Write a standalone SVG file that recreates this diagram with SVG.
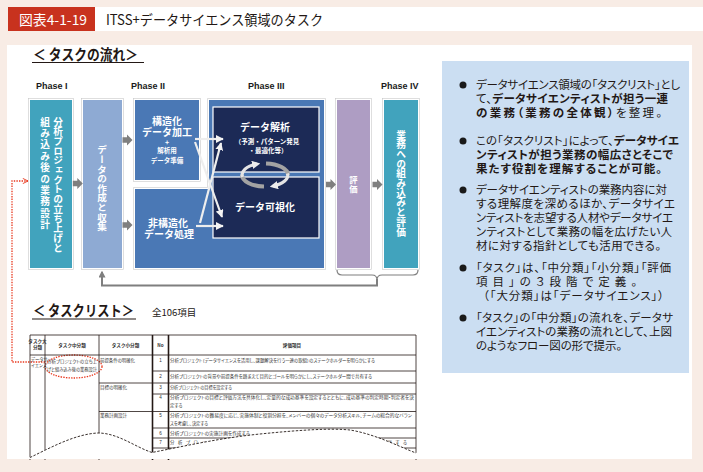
<svg xmlns="http://www.w3.org/2000/svg" width="703" height="472" viewBox="0 0 703 472">
<defs>
<style>
text{font-family:"Noto Sans CJK JP","Noto Sans CJK SC",sans-serif;}
.en{font-family:"Liberation Sans","Noto Sans",sans-serif;font-weight:bold;font-size:9px;fill:#1a1a1a;}
.wt{fill:#fff;font-weight:bold;}
.vt{writing-mode:vertical-rl;}
.pan{font-size:11.5px;fill:#231815;font-feature-settings:"palt";}
.bd{font-weight:bold;}
.frame{fill:#fff;stroke:#c8c8c8;stroke-width:0.6;}
.tl{stroke:#231815;stroke-width:0.8;fill:none;}
.tk{stroke:#231815;stroke-width:1.6;fill:none;}
.tt{font-size:4.4px;fill:#333;font-feature-settings:"palt";}
.th{font-size:4.6px;fill:#333;font-weight:bold;text-anchor:middle;}
.tn{font-size:4.6px;fill:#333;text-anchor:middle;font-family:"Liberation Sans",sans-serif;}
.ga{fill:#7f7f7f;}
.wa{stroke:#eeeeee;stroke-width:2.2;fill:none;marker-end:url(#wh);}
.cw{stroke:#e4e4e4;stroke-width:3.2;fill:none;marker-end:url(#wh2);}
.cg{stroke:#a3a3a3;stroke-width:4;fill:none;}
.red{stroke:#e8381e;stroke-width:1.3;fill:none;stroke-dasharray:1.4 1.2;}
</style>
<path id="ga" d="M0,-2.8 H4.5 V-5.5 L10,0 L4.5,5.5 V2.8 H0 Z"/>
<marker id="wh" viewBox="0 0 10 10" refX="9" refY="5" markerWidth="3.6" markerHeight="3.6" orient="auto"><path d="M0,0 L10,5 L0,10 Z" fill="#f4f4f4"/></marker>
<marker id="wh2" viewBox="0 0 10 10" refX="6" refY="5" markerWidth="2.6" markerHeight="2.6" orient="auto"><path d="M0,0 L10,5 L0,10 Z" fill="#ececec"/></marker>
<marker id="gh" viewBox="0 0 10 10" refX="8" refY="5" markerWidth="3.5" markerHeight="3.5" orient="auto"><path d="M0,0 L10,5 L0,10 Z" fill="#7f7f7f"/></marker>
<marker id="rh" viewBox="0 0 10 10" refX="9" refY="5" markerWidth="5" markerHeight="5" orient="auto"><path d="M1,1 L9,5 L1,9" fill="none" stroke="#e8381e" stroke-width="1.4"/></marker>
</defs>

<!-- background -->
<rect x="0" y="0" width="703" height="472" fill="#f8ece5"/>
<rect x="8" y="7" width="695" height="24" fill="#ffffff"/>
<rect x="8" y="7" width="87" height="24" fill="#c8321e"/>
<text x="19" y="24.5" font-size="13.5" fill="#ffffff" textLength="68" lengthAdjust="spacingAndGlyphs">図表4-1-19</text>
<text x="106" y="24.5" font-size="14" fill="#231815" textLength="217" lengthAdjust="spacingAndGlyphs">ITSS+データサイエンス領域のタスク</text>

<rect x="7" y="45" width="685" height="414" fill="#ffffff"/>

<!-- section title -->
<text x="33" y="59.5" font-size="14.5" font-weight="bold" fill="#231815" textLength="105" lengthAdjust="spacingAndGlyphs">＜ タスクの流れ＞</text>
<line x1="32" y1="62.5" x2="144" y2="62.5" stroke="#231815" stroke-width="1.2"/>

<!-- phase labels -->
<text class="en" x="36" y="89">Phase I</text>
<text class="en" x="131" y="89">Phase II</text>
<text class="en" x="248" y="89">Phase III</text>
<text class="en" x="381" y="89">Phase IV</text>

<!-- nodes -->
<g id="phase1">
<rect class="frame" x="28.5" y="98.5" width="45" height="171"/>
<rect x="30" y="100" width="42" height="168" fill="#41a3bd"/>
<text class="wt vt" x="58" y="117" font-size="9.7">分析プロジェクトの立ち上げと</text>
<text class="wt vt" x="45" y="117" font-size="9.7" letter-spacing="1.7">組み込み後の業務設計</text>
</g>

<g id="data-collect">
<rect class="frame" x="81.5" y="98.5" width="42" height="171"/>
<rect x="83" y="100" width="39" height="168" fill="#8eaad3"/>
<text class="wt vt" x="102" y="145" font-size="9.6" font-weight="normal">データの作成と収集</text>
</g>

<g id="phase23-frame">
<path d="M207.5,98.5 H325.5 V269.5 H133.5 V187.5 H207.5 Z" fill="#fff" stroke="#c8c8c8" stroke-width="0.6"/>
<path d="M209,100 H324 V268 H135 V189 H209 Z" fill="#4a78b5"/>
</g>

<g id="structured">
<rect class="frame" x="133.5" y="98.5" width="67" height="83"/>
<rect x="135" y="100" width="64" height="80" fill="#4a78b5"/>
<text class="wt" text-anchor="middle"><tspan x="167" y="124.5" font-size="10">構造化</tspan><tspan x="167" y="136" font-size="10">データ加工</tspan><tspan x="167" y="144.5" font-size="7">+</tspan><tspan x="167" y="152.5" font-size="6.5">解析用</tspan><tspan x="167" y="162.5" font-size="6.5">データ準備</tspan></text>
</g>

<g id="unstructured">
<text class="wt" text-anchor="middle" font-size="10"><tspan x="168" y="226.5">非構造化</tspan><tspan x="169" y="238">データ処理</tspan></text>
</g>

<g id="analysis">
<rect x="213" y="107" width="106" height="65" fill="#1c2a56" stroke="#ffffff" stroke-width="1.2"/>
<text class="wt" text-anchor="middle"><tspan x="265" y="130.5" font-size="10">データ解析</tspan><tspan x="267" y="144.2" font-size="6.5">（予測・パターン発見</tspan><tspan x="268" y="152.5" font-size="6.5">・最適化等）</tspan></text>
</g>

<g id="visualize">
<rect x="213" y="177" width="106" height="61" fill="#1c2a56" stroke="#ffffff" stroke-width="1.2"/>
<text class="wt" x="265" y="210.5" font-size="10" text-anchor="middle">データ可視化</text>
</g>

<g id="evaluate">
<rect class="frame" x="335.5" y="98.5" width="36" height="171"/>
<rect x="337" y="100" width="33" height="168" fill="#ae9dc3"/>
<text class="wt vt" x="353.5" y="176" font-size="8.3" font-weight="normal">評価</text>
</g>

<g id="phase4">
<rect class="frame" x="382.5" y="98.5" width="37" height="171"/>
<rect x="384" y="100" width="34" height="168" fill="#41a3bd"/>
<text class="wt vt" x="401" y="130" font-size="9.7">業務への組み込みと評価</text>
</g>

<!-- connectors -->
<g id="connectors">
<use href="#ga" class="ga" x="72.8" y="183.5"/>
<use href="#ga" class="ga" x="122.5" y="140"/>
<use href="#ga" class="ga" x="122.5" y="225"/>
<use href="#ga" class="ga" x="326" y="184.5"/>
<use href="#ga" class="ga" x="372.5" y="184.5"/>

<path class="wa" d="M195,139 H223"/>
<path class="wa" d="M195,142 L222,217"/>
<path class="wa" d="M196,226 H223"/>
<path class="wa" d="M200,223 L221,143"/>

<path class="cg" d="M266,163.5 A23,11.5 0 0 1 288,175"/>
<path class="cg" d="M264,186.5 A23,11.5 0 0 1 242,175"/>
<path class="cw" d="M242.5,177 A23,11.5 0 0 1 257,164"/>
<path class="cw" d="M287.5,173.5 A23,11.5 0 0 1 273,186"/>

<path d="M337,270 Q337,275 342,275 L372,275 Q377,275 377,280 Q377,275 382,275 L413,275 Q418,275 418,270" fill="none" stroke="#7f7f7f" stroke-width="1.2"/>
<path d="M377,279 V285.5 H102 V272" fill="none" stroke="#7f7f7f" stroke-width="2" marker-end="url(#gh)"/>

<path class="red" d="M45,362 H12 V181 H28" marker-end="url(#rh)"/>
<ellipse class="red" cx="73.5" cy="366.5" rx="28.5" ry="11.5" stroke-width="1.6"/>
</g>

<!-- right explanation panel -->
<g id="explain">
<rect x="442" y="61" width="247" height="312" fill="#cbdef2"/>
<g fill="#1a1a1a">
<circle cx="463" cy="85" r="3.5"/>
<circle cx="463" cy="141" r="3.5"/>
<circle cx="463" cy="190" r="3.5"/>
<circle cx="463" cy="268" r="3.5"/>
<circle cx="463" cy="318" r="3.5"/>
</g>
<text class="pan"><tspan x="476" y="89.2" textLength="204" lengthAdjust="spacing">データサイエンス領域の「タスクリスト」とし</tspan><tspan x="476" y="103.2" textLength="192" lengthAdjust="spacing">て、<tspan class="bd">データサイエンティストが担う一連</tspan></tspan><tspan x="476" y="117.2" textLength="186" lengthAdjust="spacing"><tspan class="bd">の業務（業務の全体観）</tspan>を整理。</tspan></text>
<text class="pan"><tspan x="476" y="145.2" textLength="203" lengthAdjust="spacing">この「タスクリスト」によって、<tspan class="bd">データサイエ</tspan></tspan><tspan class="bd" x="476" y="159.2" textLength="197" lengthAdjust="spacing">ンティストが担う業務の幅広さとそこで</tspan><tspan class="bd" x="476" y="173.2" textLength="186" lengthAdjust="spacing">果たす役割を理解することが可能。</tspan></text>
<text class="pan"><tspan x="476" y="194.2" textLength="191" lengthAdjust="spacing">データサイエンティストの業務内容に対</tspan><tspan x="476" y="208.2" textLength="199" lengthAdjust="spacing">する理解度を深めるほか、データサイエ</tspan><tspan x="476" y="222.2" textLength="197" lengthAdjust="spacing">ンティストを志望する人材やデータサイエ</tspan><tspan x="476" y="236.2" textLength="196" lengthAdjust="spacing">ンティストとして業務の幅を広げたい人</tspan><tspan x="476" y="250.2" textLength="185" lengthAdjust="spacing">材に対する指針としても活用できる。</tspan></text>
<text class="pan"><tspan x="476" y="272.2" textLength="195" lengthAdjust="spacing">「タスク」は、「中分類」「小分類」「評価</tspan><tspan x="476" y="286.2" textLength="161" lengthAdjust="spacing">項目」の３段階で定義。</tspan><tspan x="483" y="300.2" textLength="181" lengthAdjust="spacing">（「大分類」は「データサイエンス」）</tspan></text>
<text class="pan"><tspan x="476" y="322.2" textLength="197" lengthAdjust="spacing">「タスク」の「中分類」の流れを、データサ</tspan><tspan x="476" y="336.2" textLength="196" lengthAdjust="spacing">イエンティストの業務の流れとして、上図</tspan><tspan x="476" y="350.2" textLength="146" lengthAdjust="spacing">のようなフロー図の形で提示。</tspan></text>
</g>

<!-- task list -->
<g id="tasklist-title">
<text x="33" y="316" font-size="14.5" font-weight="bold" fill="#231815" textLength="101" lengthAdjust="spacingAndGlyphs">＜ タスクリスト＞</text>
<line x1="32" y1="319" x2="136" y2="319" stroke="#231815" stroke-width="1.2"/>
<text x="152" y="315.5" font-size="9.5" fill="#231815">全106項目</text>
</g>

<g id="tasklist-table">
<g class="tl">
<line x1="30" y1="335" x2="416" y2="335"/>
<line x1="30" y1="355" x2="416" y2="355"/>
<line x1="152" y1="371" x2="416" y2="371"/>
<line x1="99" y1="383" x2="416" y2="383"/>
<line x1="152" y1="394" x2="416" y2="394"/>
<line x1="99" y1="411.5" x2="416" y2="411.5"/>
<line x1="152" y1="428" x2="416" y2="428"/>
<line x1="152" y1="438" x2="416" y2="438"/>
<line x1="152" y1="448" x2="416" y2="448"/>
<line x1="30" y1="335" x2="30" y2="460"/>
<line x1="45" y1="335" x2="45" y2="460"/>
<line x1="99" y1="335" x2="99" y2="460"/>
<line x1="416" y1="335" x2="416" y2="460"/>
</g>
<g class="tk">
<line x1="152.5" y1="335" x2="152.5" y2="460"/>
<line x1="168.5" y1="335" x2="168.5" y2="460"/>
</g>
<text class="th" font-size="3.2"><tspan x="37.5" y="343">タスク大</tspan><tspan x="37.5" y="349">分類</tspan></text>
<text class="th" x="72" y="346.5">タスク中分類</text>
<text class="th" x="125.5" y="346.5">タスク小分類</text>
<text class="th" x="160.5" y="346.5">No</text>
<text class="th" x="292" y="346.5">評価項目</text>

<text class="tt" font-size="3.3"><tspan x="31" y="361">データサ</tspan><tspan x="31" y="367">イエンス</tspan></text>
<text class="tt"><tspan x="47" y="362.5" textLength="50" lengthAdjust="spacingAndGlyphs">分析プロジェクトの立ち上</tspan><tspan x="47" y="371" textLength="50" lengthAdjust="spacingAndGlyphs">げと組み込み後の業務設計</tspan></text>
<text class="tt" x="100" y="362" textLength="35" lengthAdjust="spacingAndGlyphs">前提条件の明確化</text>
<text class="tt" x="100" y="388.5" textLength="27" lengthAdjust="spacingAndGlyphs">目標の明確化</text>
<text class="tt" x="100" y="416.5" textLength="27" lengthAdjust="spacingAndGlyphs">業務計画設計</text>

<text class="tn" x="160.5" y="362">1</text>
<text class="tn" x="160.5" y="378">2</text>
<text class="tn" x="160.5" y="388.5">3</text>
<text class="tn" x="160.5" y="399">4</text>
<text class="tn" x="160.5" y="416.5">5</text>
<text class="tn" x="160.5" y="434.5">6</text>
<text class="tn" x="160.5" y="444">7</text>

<text class="tt" x="170" y="362" textLength="205" lengthAdjust="spacingAndGlyphs">分析プロジェクト（データサイエンスを活用し、課題解決を行う一連の取組）のステークホルダーを明らかにする</text>
<text class="tt" x="170" y="378" textLength="202" lengthAdjust="spacingAndGlyphs">分析プロジェクトの背景や前提条件を踏まえて目的とゴールを明らかにし、ステークホルダー間で共有する</text>
<text class="tt" x="170" y="388.5" textLength="62" lengthAdjust="spacingAndGlyphs">分析プロジェクトの目標を設定する</text>
<text class="tt"><tspan x="170" y="399" textLength="244" lengthAdjust="spacingAndGlyphs">分析プロジェクトの目標と評価方法を具体化し、定量的な成功基準を設定するとともに、成功基準の判定時期・判定者を決</tspan><tspan x="170" y="407">定する</tspan></text>
<text class="tt"><tspan x="170" y="416.5" textLength="242" lengthAdjust="spacingAndGlyphs">分析プロジェクトの難易度に応じ、実施体制と役割分担を、メンバーの個々のデータ分析スキル、チームの総合的なバラン</tspan><tspan x="170" y="424.5" textLength="38" lengthAdjust="spacingAndGlyphs">スを考慮し、決定する</tspan></text>
<text class="tt" x="170" y="434.5" textLength="80" lengthAdjust="spacingAndGlyphs">分析プロジェクトの実施計画を作成する</text>
<text class="tt" x="170" y="444" textLength="237" lengthAdjust="spacing">分析プロジェクトの実施によるビジネス上の効果を定量的に評価する</text>

<path d="M29,457.5 C50,448 75,434 98,433 C118,433 135,447 152,452.5 C185,446 220,438 260,434 C300,430 330,428 350,430 C375,434 400,447 417,453 L417,459 L29,459 Z" fill="#ffffff"/>
<path d="M30,457.5 C50,448 75,434 98,433 C118,433 135,447 152,452.5 C185,446 220,438 260,434 C300,430 330,428 350,430 C375,434 400,447 416,453" fill="none" stroke="#231815" stroke-width="0.9" stroke-dasharray="2.5 1.5"/>
</g>
</svg>
